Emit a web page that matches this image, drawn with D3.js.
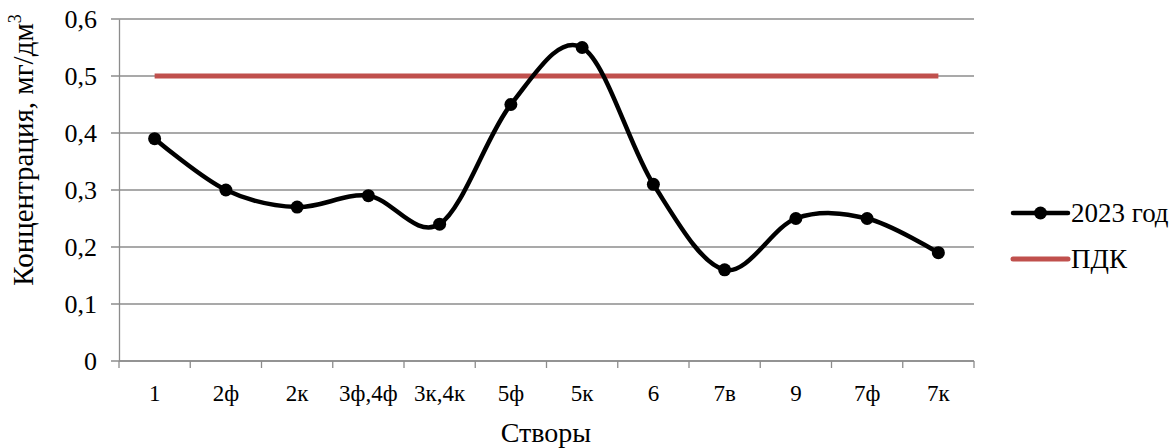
<!DOCTYPE html>
<html>
<head>
<meta charset="utf-8">
<script src="https://cdn.jsdelivr.net/npm/d3@7"></script>
<style>
  body { margin: 0; background: #fff; }
  text { font-family: "Liberation Serif", "Times New Roman", serif; fill: #000; }
</style>
</head>
<body>
<div class="chart"></div>
<script>
const categories = ["1", "2ф", "2к", "3ф,4ф", "3к,4к", "5ф", "5к", "6", "7в", "9", "7ф", "7к"]
const values2023 = [0.39, 0.30, 0.27, 0.29, 0.24, 0.45, 0.55, 0.31, 0.16, 0.25, 0.25, 0.19]
const pdkValue = 0.5
const yTicks = [0, 0.1, 0.2, 0.3, 0.4, 0.5, 0.6]
const seriesNames = ["2023 год", "ПДК"]

const width = 1175, height = 448
const margin = ({top: 19, right: 200, bottom: 87, left: 119})
const plotW = 974 - margin.left, plotH = 361 - margin.top

const svg = d3.select(".chart").append("svg")
    .attr("width", width)
    .attr("height", height)

const g = svg.append("g")
    .attr("transform", `translate(${margin.left},${margin.top})`)

const xBand = d3.scaleBand()
    .domain(categories)
    .range([0, plotW])

const xScale = d => xBand(d) + xBand.bandwidth() / 2

const yScale = d3.scaleLinear()
    .domain([0, 0.6])
    .range([plotH, 0])

const fmt = d => d === 0 ? "0" : d3.format(".1f")(d).replace(".", ",")

// gridlines
g.append("g")
    .selectAll("line")
    .data(yTicks)
    .enter()
    .append("line")
        .attr("x1", -8)
        .attr("x2", plotW)
        .attr("y1", d => yScale(d))
        .attr("y2", d => yScale(d))
        .attr("stroke", "#8c8c8c")
        .attr("stroke-width", 1.3)

// y axis
const yAxis = d3.axisLeft(yScale)
    .tickValues(yTicks)
    .tickFormat(fmt)
    .tickSize(0)
    .tickPadding(22)

g.append("g")
    .attr("class", "axis y-axis")
    .call(yAxis)
    .call(a => a.select(".domain").attr("stroke", "#8c8c8c").attr("stroke-width", 1.3))
    .call(a => a.selectAll("text").attr("font-size", 26).attr("font-family", "Liberation Serif"))

// x axis
const xAxis = d3.axisBottom(xBand)
    .tickSize(0)
    .tickPadding(24)

const xg = g.append("g")
    .attr("class", "axis x-axis")
    .attr("transform", `translate(0, ${plotH})`)
    .call(xAxis)
    .call(a => a.select(".domain").remove())
    .call(a => a.selectAll("text").attr("font-size", 23).attr("font-family", "Liberation Serif"))

xg.append("line")
    .attr("x1", 0).attr("x2", plotW)
    .attr("stroke", "#8c8c8c").attr("stroke-width", 1.3)

xg.selectAll(".xtick")
    .data(d3.range(categories.length + 1))
    .enter()
    .append("line")
        .attr("x1", i => i * xBand.bandwidth())
        .attr("x2", i => i * xBand.bandwidth())
        .attr("y1", 0)
        .attr("y2", 7)
        .attr("stroke", "#8c8c8c")
        .attr("stroke-width", 1.3)

// PDK line
const pdkLine = d3.line()
    .x(d => xScale(d))
    .y(() => yScale(pdkValue))

g.append("path")
    .datum(categories)
    .attr("d", pdkLine)
    .attr("fill", "none")
    .attr("stroke", "#c0504d")
    .attr("stroke-width", 5)

// 2023 line
const data = categories.map((c, i) => ({cat: c, value: values2023[i]}))

const line = d3.line()
    .x(d => xScale(d.cat))
    .y(d => yScale(d.value))
    .curve(d3.curveCatmullRom.alpha(0))

g.append("path")
    .datum(data)
    .attr("d", line)
    .attr("fill", "none")
    .attr("stroke", "#000")
    .attr("stroke-width", 4.5)

g.selectAll("circle")
    .data(data)
    .enter()
    .append("circle")
        .attr("cx", d => xScale(d.cat))
        .attr("cy", d => yScale(d.value))
        .attr("r", 6.5)
        .attr("fill", "#000")

// axis titles
svg.append("text")
    .attr("x", 546)
    .attr("y", 442)
    .attr("text-anchor", "middle")
    .attr("font-size", 28)
    .text("Створы")

const yTitle = svg.append("text")
    .attr("transform", "translate(33,150) rotate(-90)")
    .attr("text-anchor", "middle")
    .attr("font-size", 29)
yTitle.append("tspan").text("Концентрация, мг/дм")
yTitle.append("tspan").text("3").attr("font-size", 18).attr("dy", -12)

// legend
const legend = svg.append("g")
    .attr("class", "legend")
    .attr("transform", "translate(1013,213)")

const legendColors = ["#000", "#c0504d"]
const legendWidths = [4.5, 5]

legend.selectAll("line")
    .data(seriesNames)
    .enter()
    .append("line")
        .attr("x1", 0)
        .attr("x2", 55)
        .attr("y1", (_, i) => i * 46)
        .attr("y2", (_, i) => i * 46)
        .attr("stroke", (_, i) => legendColors[i])
        .attr("stroke-width", (_, i) => legendWidths[i])
        .attr("stroke-linecap", "round")

legend.append("circle")
    .attr("cx", 27.5)
    .attr("cy", 0)
    .attr("r", 6.5)
    .attr("fill", "#000")

legend.selectAll("text")
    .data(seriesNames)
    .enter()
    .append("text")
        .attr("x", 58)
        .attr("y", (_, i) => i * 46 + 9)
        .attr("font-size", 27)
        .text(d => d)
</script>
</body>
</html>
